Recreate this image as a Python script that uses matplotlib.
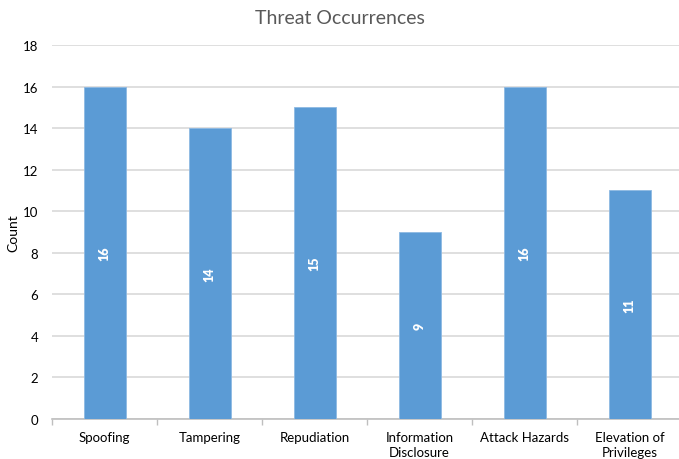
import matplotlib.pyplot as plt
import numpy as np

# Threat categories and their counts
categories = ['Spoofing', 'Tampering', 'Repudiation', 'Information\nDisclosure',
              'Attack Hazards', 'Elevation of\nPrivileges']
counts = [16, 14, 15, 9, 16, 11]
y_ticks = [0, 2, 4, 6, 8, 10, 12, 14, 16, 18]

plt.rcParams['font.family'] = ['Lato', 'DejaVu Sans']

fig = plt.figure(figsize=(6.79, 4.6), dpi=100)
ax = fig.add_axes([52 / 679, 40 / 460, 630 / 679, 374 / 460])

x = np.arange(len(categories))
bars = ax.bar(x, counts, width=0.4, color='#5B9BD5', edgecolor='#8DB9E3',
              linewidth=0.6, zorder=3)

# value labels inside the bars
for xi, c in zip(x, counts):
    ax.text(xi, c / 2, str(c), rotation=90, ha='center', va='center',
            color='white', fontsize=9, fontweight='heavy', zorder=4)

ax.set_xlim(-0.5, len(categories) - 0.5)
ax.set_ylim(0, 18)
ax.set_yticks(y_ticks)
ax.yaxis.grid(True, color='#d9d9d9', linewidth=1.2, zorder=0)
ax.set_xticks(x)
ax.set_xticklabels(categories, fontsize=9.5, color='black', linespacing=1.25)
ax.set_xticks(np.arange(-0.5, len(categories), 1), minor=True)
ax.tick_params(axis='x', which='major', length=0, pad=9)
ax.tick_params(axis='x', which='minor', length=4, color='#bfbfbf', width=1)
ax.tick_params(axis='y', length=0, labelsize=9.5, pad=10)

for s in ['top', 'right', 'left']:
    ax.spines[s].set_visible(False)
ax.spines['bottom'].set_color('#bfbfbf')
ax.spines['bottom'].set_linewidth(1.2)

ax.set_ylabel('Count', fontsize=10)
ax.yaxis.set_label_coords(-0.052, 0.5)
fig.text(0.5, 0.96, 'Threat Occurrences', ha='center', va='center',
         fontsize=14, color='#595959')

fig.savefig('out.png', dpi=100)
